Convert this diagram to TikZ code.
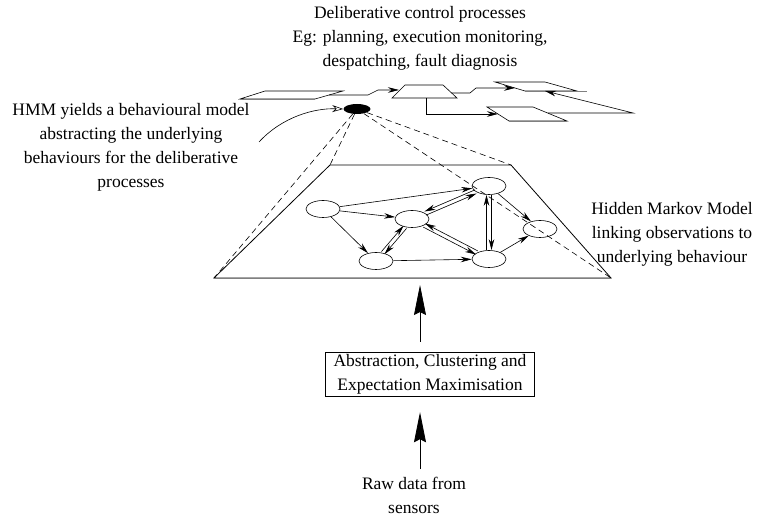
\documentclass[tikz,border=0pt]{standalone}
\usepackage{fontspec}
\setmainfont{Liberation Serif}
\usetikzlibrary{arrows.meta}
\usetikzlibrary{shapes.geometric}

\begin{document}
\begin{tikzpicture}[x=1pt, y=-1pt, line width=0.6pt,
  font=\fontsize{17.5}{24}\selectfont,
  state/.style={ellipse, draw, minimum width=34, minimum height=17, inner sep=0pt},
  link/.style={-{Stealth[length=11, width=5.5]}},
  bigarrow/.style={line width=0.8pt, -{Stealth[length=30, width=12, inset=3]}},
  guide/.style={dash pattern=on 6pt off 4pt},
  rim/.style={gray, line width=1pt}]
\useasboundingbox (0,0) rectangle (758,518);

%%% Plane of the Hidden Markov Model
\coordinate (plTL) at (330,165);
\coordinate (plTR) at (511,165);
\coordinate (plBR) at (611,278);
\coordinate (plBL) at (214,278);

%%% Deliberative layer shapes
\coordinate (paraA) at (240,99);
\coordinate (trapA) at (392,98);
\coordinate (paraB) at (525,91);
\coordinate (paraC) at (509,121);

%%Texts
\node[align=center] (delib) at (420,38) {Deliberative control processes\\Eg: planning, execution monitoring,\\despatching, fault diagnosis};
\node[align=center] (yields) at (131,147) {HMM yields a behavioural model\\abstracting the underlying\\behaviours for the deliberative\\processes};
\node[align=center] (linking) at (672,234) {Hidden Markov Model\\linking observations to\\underlying behaviour};

%%% Deliberative processes
\draw (paraA) -- ++(25,-8) -- ++(78,0) -- ++(-28,8) -- cycle;
\draw (trapA) -- ++(13,-13) -- ++(38,0) -- ++(14,13) -- cycle;
\draw (paraB) -- ++(-30,-9) -- ++(50,0) -- ++(32,9) -- cycle;
\draw (paraC) -- ++(-22,-14) -- ++(46,0) -- ++(34,14) -- cycle;
\draw[rim] ([yshift=-1]paraA) -- ++(75,0);
\draw[rim] ([yshift=-1]paraB) -- ++(62,0);
\draw[rim] ([yshift=-1]paraC) -- ++(58,0);

\draw[link] (329,95) -- (368,95) -- (378,90) -- (399,90);
\draw[link] (452,93) -- (470,93) -- (476,88) -- (515,88);
\draw[link] (426,98) -- (426,114) -- (498,114);
\draw[link] (548,113) -- (633,113) -- (545,91);

%%% Behavioural model
\node[ellipse, fill, minimum width=27, minimum height=10, inner sep=0pt] (hmm) at (357,109) {};
\coordinate (curveStart) at (259,142);
\draw[-{Stealth[open, length=11, width=7]}] (curveStart) .. controls (282,117) and (314,108) .. (hmm.west);

\draw[guide] (hmm) -- (plTL);
\draw[guide] (hmm) -- (plBL);
\draw[guide] (hmm) -- (plTR);
\draw[guide] (hmm) -- (plBR);

%%% The plane
\draw[line width=0.8pt] (plTL) -- (plTR) -- (plBR) -- (plBL) -- cycle;
\draw[rim] ([yshift=-1]plBL) -- ([yshift=-1]plBR);

%%% States
\node[state] (sLeft) at (323,209) {};
\node[state] (sMid) at (412,219) {};
\node[state] (sTop) at (489,186) {};
\node[state] (sRight) at (540,229) {};
\node[state] (sLow) at (376,261) {};
\node[state] (sBot) at (489,259) {};

\draw[link] (sLeft) -- (sTop);
\draw[link] (sLeft) -- (sMid);
\draw[link] (sLeft) -- (sLow);
\draw[link] (sLow) -- (sBot);
\draw[link] (sTop) -- (sRight);
\draw[link] (sBot) -- (sRight);

%% two way links
\draw[link, transform canvas={shift={(1.5,1.3)}}] (sMid) -- (sLow);
\draw[link, transform canvas={shift={(-1.5,-1.3)}}] (sLow) -- (sMid);
\draw[link, transform canvas={shift={(0.8,1.8)}}] (sMid) -- (sTop);
\draw[link, transform canvas={shift={(-0.8,-1.8)}}] (sTop) -- (sMid);
\draw[link, transform canvas={shift={(-0.9,1.8)}}] (sMid) -- (sBot);
\draw[link, transform canvas={shift={(0.9,-1.8)}}] (sBot) -- (sMid);
\draw[link, transform canvas={shift={(-2.5,0)}}] (sBot) -- (sTop);
\draw[link, transform canvas={shift={(2.5,0)}}] (sTop) -- (sBot);

%%% Abstraction and raw data
\node[draw, align=center, inner xsep=8pt, inner ysep=2pt] (absbox) at (430,374) {Abstraction, Clustering and\\Expectation Maximisation};
\node[align=center] (raw) at (414,495) {Raw data from\\sensors};

\coordinate (upX) at (420,0);
\draw[bigarrow, shorten <=10pt, shorten >=7pt] (absbox.north -| upX) -- (plBL -| upX);
\draw[bigarrow, shorten <=4pt, shorten >=16pt] (raw.north -| upX) -- (absbox.south -| upX);

\end{tikzpicture}
\end{document}
